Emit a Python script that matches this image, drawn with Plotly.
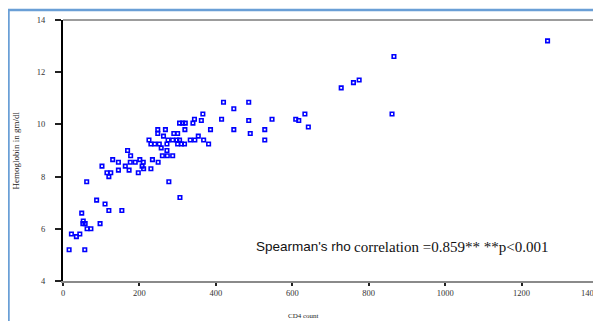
import plotly.graph_objects as go

# CD4 count (x) and hemoglobin gm/dl (y)
cd4 = [16, 57, 22, 44, 35, 49, 53, 52, 58, 97, 63, 73, 62, 88, 110, 120, 154,
       102, 115, 125, 120, 130, 145, 145, 163, 169, 177, 173, 176, 189,
       197, 201, 207, 211, 210, 230, 234, 249, 225, 230, 240, 252, 248, 248,
       257, 263, 268, 260, 273, 272, 272, 277, 275, 287, 298, 305, 287,
       290, 300, 305, 313, 320, 300, 310, 318, 306, 319, 333, 345, 340, 344,
       354, 362, 366, 368, 381, 386, 415, 420, 447, 447, 486, 486, 490, 528,
       528, 547, 609, 617, 633, 642, 728, 760, 775, 861, 866, 1268]
hb = [5.2, 5.2, 5.8, 5.8, 5.7, 6.6, 6.3, 6.2, 6.2, 6.2, 6.0, 6.0, 7.8, 7.1, 6.95, 6.7, 6.7,
      8.4, 8.15, 8.15, 8.0, 8.65, 8.55, 8.25, 8.4, 9.0, 8.8, 8.25, 8.55, 8.55,
      8.15, 8.65, 8.4, 8.3, 8.55, 8.3, 8.65, 8.55, 9.4, 9.25, 9.25, 9.25, 9.65, 9.8,
      9.1, 9.55, 9.8, 8.8, 8.8, 9.25, 9.0, 7.8, 9.4, 9.4, 9.4, 9.4, 8.8,
      9.65, 9.65, 10.05, 10.05, 10.05, 9.25, 9.25, 9.25, 7.2, 9.8, 9.4, 9.4, 10.05, 10.2,
      9.55, 10.15, 10.4, 9.4, 9.25, 9.8, 10.2, 10.85, 10.6, 9.8, 10.85, 10.15, 9.65, 9.8,
      9.4, 10.2, 10.2, 10.15, 10.4, 9.9, 11.4, 11.6, 11.7, 10.4, 12.6, 13.2]

x_ticks = [0, 200, 400, 600, 800, 1000, 1200, 1400]
x_tick_labels = ["0", "200", "400", "600", "800", "1000", "1200", "1400"]
y_ticks = [4, 6, 8, 10, 12, 14]
y_tick_labels = ["4", "6", "8", "10", "12", "14"]

SERIF = "Liberation Serif"
SANS = "Liberation Sans"

fig = go.Figure()
fig.add_trace(go.Scatter(
    x=cd4, y=hb, mode="markers",
    marker=dict(symbol="square-open", size=3.5, color="#0000ff",
                line=dict(width=1.6, color="#0000ff")),
    showlegend=False, cliponaxis=False,
))

# the last tick label sits at the very right edge, so it is drawn right-aligned
axis_labels = x_tick_labels[:-1] + [""]

# page body has an 8px margin, so the figure is sized/margined to compensate
fig.update_layout(
    width=593, height=313,
    margin=dict(l=55, r=3, t=12, b=40, pad=0, autoexpand=False),
    paper_bgcolor="white", plot_bgcolor="white",
    font=dict(family=SERIF, size=9, color="#222222"),
    xaxis=dict(range=[0, 1400], tickvals=x_ticks, ticktext=axis_labels,
               automargin=False, ticklabeloverflow="allow",
               showgrid=False, zeroline=False, showline=True,
               linecolor="#8a8a8a", linewidth=2,
               ticks="outside", ticklen=3, tickwidth=2, tickcolor="#222222",
               tickfont=dict(family=SERIF, size=8.5, color="#333333"),
               ticklabelstandoff=0),
    yaxis=dict(range=[4, 14], tickvals=y_ticks, ticktext=y_tick_labels,
               automargin=False,
               showgrid=False, zeroline=False, showline=True,
               linecolor="#000000", linewidth=2,
               ticks="outside", ticklen=6, tickwidth=1.5, tickcolor="#222222",
               tickfont=dict(family=SERIF, size=8.5, color="#333333"),
               ticklabelstandoff=8),
)

fig.add_annotation(text=x_tick_labels[-1], xref="x", yref="paper",
                   x=x_ticks[-1], y=0, xshift=2, yshift=-12, showarrow=False,
                   xanchor="right", yanchor="middle",
                   font=dict(family=SERIF, size=8.5, color="#333333"))

# outer light-blue frame
fig.add_shape(type="rect", xref="paper", yref="paper",
              x0=-0.1019, y0=-0.3, x1=1.05, y1=1.0383,
              line=dict(color="#6a9fd6", width=2.5), layer="below")
# top thin frame line and right thick frame line
fig.add_shape(type="line", xref="paper", yref="paper", x0=0, x1=1, y0=1, y1=1,
              line=dict(color="#3a3a3a", width=1))
fig.add_shape(type="line", xref="paper", yref="paper", x0=1, x1=1, y0=0, y1=1,
              line=dict(color="#1a1a1a", width=2.5))

# axis titles
fig.add_annotation(text="Hemoglobin in gm/dl", xref="paper", yref="paper",
                   x=-0.0897, y=0.5, textangle=-90, showarrow=False,
                   xanchor="center", yanchor="middle",
                   font=dict(family=SERIF, size=9, color="#222222"))
fig.add_annotation(text="CD4 count", xref="paper", yref="paper",
                   x=0.449, y=0, yshift=-35, showarrow=False,
                   xanchor="center", yanchor="middle",
                   font=dict(family=SERIF, size=7, color="#222222"))

# correlation note: sans part then serif part
fig.add_annotation(text="Spearman's rho", xref="x", yref="y", x=500, y=5.31,
                   showarrow=False, xanchor="left", yanchor="middle",
                   font=dict(family=SANS, size=13.5, color="#111111"))
fig.add_annotation(text="correlation =0.859** **p&lt;0.001", xref="x", yref="y",
                   x=756, y=5.29, showarrow=False, xanchor="left", yanchor="middle",
                   font=dict(family=SERIF, size=15, color="#111111"))

fig.write_html("out.html")
